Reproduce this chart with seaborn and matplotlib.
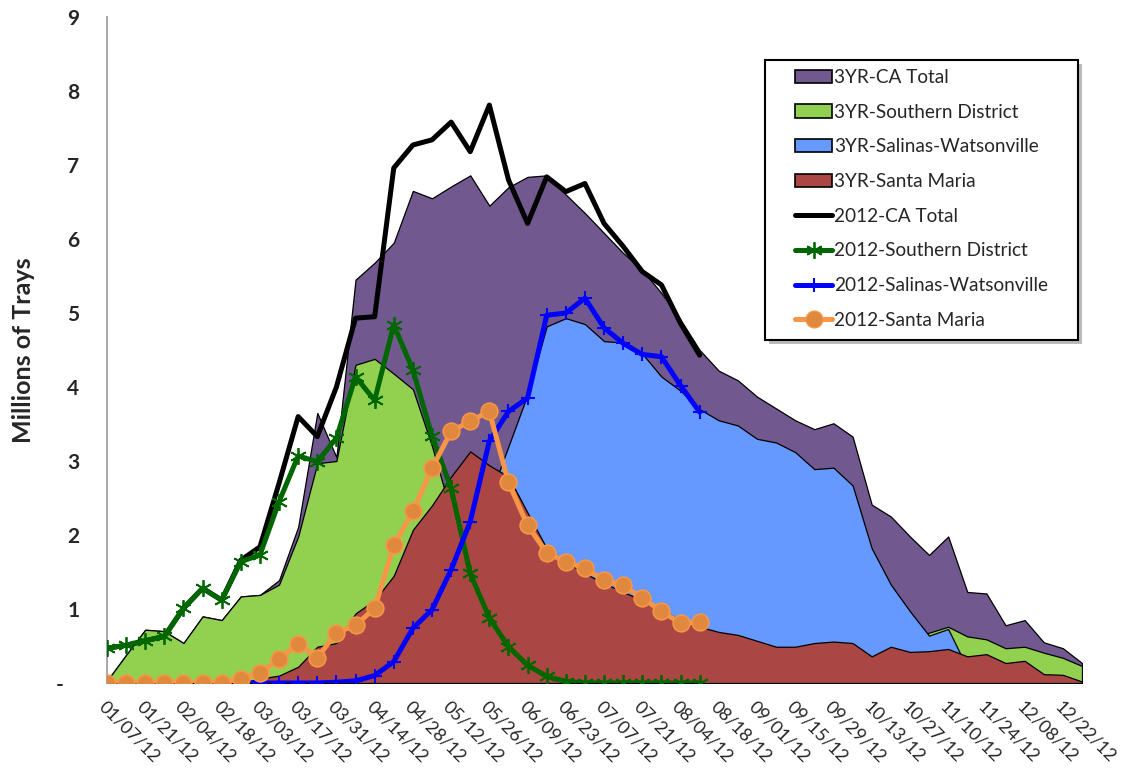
import numpy as np
import pandas as pd
import matplotlib.pyplot as plt
import seaborn as sns
from matplotlib.patches import Patch, Rectangle
from matplotlib.lines import Line2D

# week ending dates (x categories)
weeks = ["01/07/12", "01/14/12", "01/21/12", "01/28/12", "02/04/12", "02/11/12", "02/18/12",
         "02/25/12", "03/03/12", "03/10/12", "03/17/12", "03/24/12", "03/31/12", "04/07/12",
         "04/14/12", "04/21/12", "04/28/12", "05/05/12", "05/12/12", "05/19/12", "05/26/12",
         "06/02/12", "06/09/12", "06/16/12", "06/23/12", "06/30/12", "07/07/12", "07/14/12",
         "07/21/12", "07/28/12", "08/04/12", "08/11/12", "08/18/12", "08/25/12", "09/01/12",
         "09/08/12", "09/15/12", "09/22/12", "09/29/12", "10/06/12", "10/13/12", "10/20/12",
         "10/27/12", "11/03/12", "11/10/12", "11/17/12", "11/24/12", "12/01/12", "12/08/12",
         "12/15/12", "12/22/12", "12/29/12"]

# 3 year averages (millions of trays)
yr3_ca_total = [0.03, 0.38, 0.72, 0.70, 0.54, 0.90, 0.85, 1.17, 1.19, 1.39,
                2.11, 3.65, 3.05, 5.45, 5.68, 5.95, 6.65, 6.55, 6.71, 6.86,
                6.45, 6.70, 6.84, 6.86, 6.60, 6.35, 6.08, 5.81, 5.58, 5.27,
                4.91, 4.50, 4.22, 4.09, 3.87, 3.71, 3.55, 3.43, 3.51, 3.33,
                2.41, 2.25, 1.98, 1.73, 1.98, 1.23, 1.21, 0.78, 0.85, 0.55,
                0.47, 0.27]
yr3_southern = [0.03, 0.38, 0.72, 0.70, 0.54, 0.90, 0.85, 1.17, 1.19, 1.33,
                1.98, 2.97, 3.00, 4.30, 4.38, 4.18, 3.97, 3.20, 2.30, 1.60,
                1.10, 0.85, 0.70, 0.60, 0.55, 0.52, 0.50, 0.50, 0.48, 0.47,
                0.46, 0.45, 0.45, 0.44, 0.44, 0.45, 0.46, 0.48, 0.50, 0.52,
                0.55, 0.58, 0.62, 0.68, 0.76, 0.63, 0.59, 0.47, 0.49, 0.41,
                0.34, 0.23]
yr3_salinas = [0.0, 0.0, 0.0, 0.0, 0.0, 0.0, 0.0, 0.0, 0.0, 0.0,
               0.0, 0.0, 0.0, 0.02, 0.05, 0.15, 0.35, 0.70, 1.20, 1.85,
               2.50, 3.20, 3.90, 4.82, 4.93, 4.85, 4.62, 4.60, 4.45, 4.14,
               3.95, 3.70, 3.55, 3.48, 3.30, 3.25, 3.12, 2.89, 2.91, 2.67,
               1.82, 1.33, 0.97, 0.64, 0.73, 0.20, 0.12, 0.08, 0.05, 0.03,
               0.02, 0.0]
yr3_santa_maria = [0.0, 0.0, 0.0, 0.0, 0.0, 0.0, 0.0, 0.0, 0.06, 0.10,
                   0.22, 0.49, 0.54, 0.94, 1.12, 1.45, 2.07, 2.40, 2.79, 3.13,
                   2.94, 2.79, 2.30, 1.82, 1.64, 1.48, 1.35, 1.23, 1.12, 0.99,
                   0.85, 0.76, 0.69, 0.65, 0.57, 0.49, 0.49, 0.54, 0.56, 0.54,
                   0.36, 0.49, 0.42, 0.43, 0.46, 0.36, 0.39, 0.27, 0.30, 0.12,
                   0.11, 0.02]

# 2012 weekly (reported through 08/11/12)
y2012_ca_total = [0.47, 0.51, 0.57, 0.63, 1.01, 1.28, 1.12, 1.66, 1.84, 2.70,
                  3.60, 3.33, 4.00, 4.93, 4.95, 6.96, 7.27, 7.34, 7.58, 7.18,
                  7.81, 6.80, 6.21, 6.84, 6.64, 6.75, 6.21, 5.90, 5.56, 5.38,
                  4.86, 4.43]
y2012_southern = [0.47, 0.51, 0.57, 0.63, 1.01, 1.28, 1.12, 1.64, 1.73, 2.45,
                  3.07, 2.99, 3.31, 4.14, 3.82, 4.84, 4.23, 3.34, 2.63, 1.48,
                  0.88, 0.49, 0.24, 0.09, 0.02, 0.0, 0.0, 0.0, 0.0, 0.0,
                  0.0, 0.0]
y2012_salinas = [np.nan, np.nan, np.nan, np.nan, np.nan, np.nan, np.nan, 0.0, 0.0, 0.0,
                 0.0, 0.0, 0.01, 0.03, 0.10, 0.29, 0.74, 0.99, 1.53, 2.18,
                 3.27, 3.67, 3.85, 4.97, 5.00, 5.20, 4.80, 4.59, 4.44, 4.41,
                 4.02, 3.66]
y2012_santa_maria = [0.0, 0.0, 0.0, 0.0, 0.0, 0.0, 0.0, 0.06, 0.14, 0.32,
                     0.53, 0.34, 0.68, 0.78, 1.01, 1.86, 2.32, 2.90, 3.40, 3.54,
                     3.67, 2.71, 2.13, 1.76, 1.64, 1.55, 1.39, 1.32, 1.15, 0.97,
                     0.81, 0.82]

y_tick_labels = ["-   ", "1", "2", "3", "4", "5", "6", "7", "8", "9"]


def pad(vals):
    return list(vals) + [np.nan] * (len(weeks) - len(vals))


df = pd.DataFrame({
    "week": np.arange(len(weeks)),
    "3YR-CA Total": yr3_ca_total,
    "3YR-Southern District": yr3_southern,
    "3YR-Salinas-Watsonville": yr3_salinas,
    "3YR-Santa Maria": yr3_santa_maria,
    "2012-CA Total": pad(y2012_ca_total),
    "2012-Southern District": pad(y2012_southern),
    "2012-Salinas-Watsonville": pad(y2012_salinas),
    "2012-Santa Maria": pad(y2012_santa_maria),
})

sns.set_theme(style="white")
plt.rcParams["font.family"] = ["Lato", "DejaVu Sans"]

fig = plt.figure(figsize=(11.26, 7.76), dpi=100)
ax = fig.add_axes([107 / 1126, 1 - 683 / 776, 975 / 1126, 666 / 776])

# 3 year areas, drawn over each other (not stacked)
areas = [("3YR-CA Total", "#71588F"),
         ("3YR-Southern District", "#92D050"),
         ("3YR-Salinas-Watsonville", "#6699FF"),
         ("3YR-Santa Maria", "#AA4643")]
for i, (name, col) in enumerate(areas):
    ax.fill_between(df["week"], 0, df[name], facecolor=col, edgecolor="black",
                    linewidth=0.9, zorder=1 + i)

# 2012 lines
sns.lineplot(data=df, x="week", y="2012-CA Total", color="black", lw=3.6,
             ax=ax, zorder=6, legend=False)
sns.lineplot(data=df, x="week", y="2012-Southern District", color="#006600", lw=3.6,
             marker=(6, 2, 0), markersize=12, markeredgewidth=1.3,
             markeredgecolor="#006600", ax=ax, zorder=7, legend=False)
sns.lineplot(data=df, x="week", y="2012-Salinas-Watsonville", color="#0000FF", lw=3.6,
             marker="+", markersize=10, markeredgewidth=1.5,
             markeredgecolor="#0000FF", ax=ax, zorder=8, legend=False)
sns.lineplot(data=df, x="week", y="2012-Santa Maria", color="#F79646", lw=3.6,
             marker="o", markersize=12, markerfacecolor="#E0883E",
             markeredgewidth=1.2, markeredgecolor="#F79646", ax=ax, zorder=9, legend=False)

# axes
ax.set_xlim(0, len(weeks) - 1)
ax.set_ylim(0, 9)
for s in ["top", "right"]:
    ax.spines[s].set_visible(False)
for s in ["left", "bottom"]:
    ax.spines[s].set_color("#A0A0A0")
    ax.spines[s].set_linewidth(1.3)

ax.set_xticks(df["week"][::2])
ax.set_xticklabels(weeks[::2], rotation=-45, ha="left", va="top",
                   rotation_mode="anchor", fontsize=13)
ax.set_yticks(range(10))
ax.set_yticklabels(y_tick_labels, fontsize=15, fontweight="bold")
ax.tick_params(axis="both", direction="out", color="#A0A0A0", width=1.2)
ax.tick_params(axis="y", length=7, pad=13)
ax.tick_params(axis="x", length=6, pad=5)
ax.set_xlabel("")
ax.set_ylabel("Millions of Trays", fontsize=18, fontweight="bold")
ax.yaxis.set_label_coords(-0.074, 0.5)

# legend with boxed frame and shadow
fig.add_artist(Rectangle((769 / 1126, 1 - 344 / 776), 313 / 1126, 280 / 776,
                         transform=fig.transFigure, facecolor="#BBBBBB",
                         edgecolor="none", zorder=2))
fig.add_artist(Rectangle((765 / 1126, 1 - 340 / 776), 313 / 1126, 280 / 776,
                         transform=fig.transFigure, facecolor="white",
                         edgecolor="black", linewidth=1.5, zorder=3))

handles = [Patch(facecolor=c, edgecolor="black", linewidth=1.2) for _, c in areas]
handles += [
    Line2D([], [], color="black", lw=3.6),
    Line2D([], [], color="#006600", lw=3.6, marker=(6, 2, 0), markersize=12,
           markeredgewidth=1.3),
    Line2D([], [], color="#0000FF", lw=3.6, marker="+", markersize=10,
           markeredgewidth=1.5),
    Line2D([], [], color="#F79646", lw=3.6, marker="o", markersize=12,
           markerfacecolor="#E0883E", markeredgecolor="#F79646"),
]
labels = [a[0] for a in areas] + ["2012-CA Total", "2012-Southern District",
                                  "2012-Salinas-Watsonville", "2012-Santa Maria"]
fig.legend(handles, labels, loc="upper left", bbox_to_anchor=(795 / 1126, 1 - 69 / 776),
           bbox_transform=fig.transFigure, frameon=False, fontsize=13.7,
           handlelength=1.95, handletextpad=0.1, labelspacing=0.93,
           borderpad=0, borderaxespad=0, numpoints=1)

fig.savefig("out.png", dpi=100)
